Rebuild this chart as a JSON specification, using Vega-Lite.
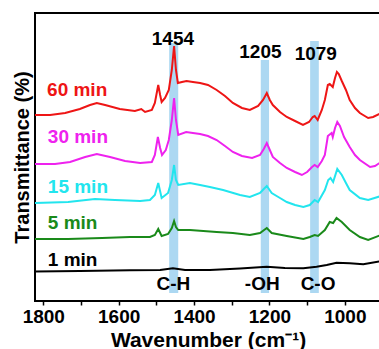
{
  "$schema": "https://vega.github.io/schema/vega-lite/v6.json",
  "width": 346,
  "height": 288,
  "autosize": {"type": "none"},
  "padding": {"left": 35, "top": 13, "right": 0, "bottom": 48},
  "config": {
    "font": "Liberation Sans",
    "view": {"stroke": "black", "strokeWidth": 2}
  },
  "datasets": {
    "spectra": [
      {"series": "60 min", "wn": 1822, "t": 186}, {"series": "60 min", "wn": 1782, "t": 186}, {"series": "60 min", "wn": 1742, "t": 188}, {"series": "60 min", "wn": 1703, "t": 192}, {"series": "60 min", "wn": 1676, "t": 196}, {"series": "60 min", "wn": 1658, "t": 198}, {"series": "60 min", "wn": 1636, "t": 196}, {"series": "60 min", "wn": 1597, "t": 192}, {"series": "60 min", "wn": 1557, "t": 190}, {"series": "60 min", "wn": 1540, "t": 192}, {"series": "60 min", "wn": 1530, "t": 189}, {"series": "60 min", "wn": 1512, "t": 191}, {"series": "60 min", "wn": 1504, "t": 198}, {"series": "60 min", "wn": 1495, "t": 216}, {"series": "60 min", "wn": 1490, "t": 206}, {"series": "60 min", "wn": 1486, "t": 199}, {"series": "60 min", "wn": 1477, "t": 203}, {"series": "60 min", "wn": 1467, "t": 211}, {"series": "60 min", "wn": 1459, "t": 231}, {"series": "60 min", "wn": 1453, "t": 255}, {"series": "60 min", "wn": 1448, "t": 231}, {"series": "60 min", "wn": 1443, "t": 218}, {"series": "60 min", "wn": 1432, "t": 219}, {"series": "60 min", "wn": 1420, "t": 220}, {"series": "60 min", "wn": 1403, "t": 219}, {"series": "60 min", "wn": 1384, "t": 218}, {"series": "60 min", "wn": 1363, "t": 216}, {"series": "60 min", "wn": 1340, "t": 211}, {"series": "60 min", "wn": 1318, "t": 205}, {"series": "60 min", "wn": 1297, "t": 198}, {"series": "60 min", "wn": 1273, "t": 193}, {"series": "60 min", "wn": 1252, "t": 191}, {"series": "60 min", "wn": 1230, "t": 195}, {"series": "60 min", "wn": 1217, "t": 201}, {"series": "60 min", "wn": 1207, "t": 208}, {"series": "60 min", "wn": 1199, "t": 201}, {"series": "60 min", "wn": 1191, "t": 196}, {"series": "60 min", "wn": 1172, "t": 189}, {"series": "60 min", "wn": 1154, "t": 184}, {"series": "60 min", "wn": 1132, "t": 180}, {"series": "60 min", "wn": 1111, "t": 176}, {"series": "60 min", "wn": 1095, "t": 179}, {"series": "60 min", "wn": 1085, "t": 184}, {"series": "60 min", "wn": 1080, "t": 185}, {"series": "60 min", "wn": 1072, "t": 181}, {"series": "60 min", "wn": 1061, "t": 191}, {"series": "60 min", "wn": 1053, "t": 201}, {"series": "60 min", "wn": 1045, "t": 216}, {"series": "60 min", "wn": 1040, "t": 217}, {"series": "60 min", "wn": 1032, "t": 214}, {"series": "60 min", "wn": 1026, "t": 223}, {"series": "60 min", "wn": 1021, "t": 229}, {"series": "60 min", "wn": 1016, "t": 227}, {"series": "60 min", "wn": 1008, "t": 220}, {"series": "60 min", "wn": 997, "t": 211}, {"series": "60 min", "wn": 987, "t": 201}, {"series": "60 min", "wn": 973, "t": 193}, {"series": "60 min", "wn": 960, "t": 188}, {"series": "60 min", "wn": 938, "t": 183}, {"series": "60 min", "wn": 925, "t": 184}, {"series": "60 min", "wn": 904, "t": 188},

      {"series": "30 min", "wn": 1822, "t": 137}, {"series": "30 min", "wn": 1769, "t": 137}, {"series": "30 min", "wn": 1729, "t": 139}, {"series": "30 min", "wn": 1689, "t": 144}, {"series": "30 min", "wn": 1658, "t": 147}, {"series": "30 min", "wn": 1623, "t": 144}, {"series": "30 min", "wn": 1583, "t": 140}, {"series": "30 min", "wn": 1543, "t": 138}, {"series": "30 min", "wn": 1512, "t": 139}, {"series": "30 min", "wn": 1504, "t": 146}, {"series": "30 min", "wn": 1496, "t": 164}, {"series": "30 min", "wn": 1490, "t": 153}, {"series": "30 min", "wn": 1485, "t": 146}, {"series": "30 min", "wn": 1475, "t": 151}, {"series": "30 min", "wn": 1467, "t": 161}, {"series": "30 min", "wn": 1459, "t": 181}, {"series": "30 min", "wn": 1453, "t": 203}, {"series": "30 min", "wn": 1448, "t": 181}, {"series": "30 min", "wn": 1442, "t": 166}, {"series": "30 min", "wn": 1421, "t": 169}, {"series": "30 min", "wn": 1403, "t": 168}, {"series": "30 min", "wn": 1384, "t": 167}, {"series": "30 min", "wn": 1363, "t": 165}, {"series": "30 min", "wn": 1340, "t": 161}, {"series": "30 min", "wn": 1318, "t": 155}, {"series": "30 min", "wn": 1297, "t": 149}, {"series": "30 min", "wn": 1273, "t": 145}, {"series": "30 min", "wn": 1246, "t": 143}, {"series": "30 min", "wn": 1225, "t": 146}, {"series": "30 min", "wn": 1215, "t": 152}, {"series": "30 min", "wn": 1207, "t": 158}, {"series": "30 min", "wn": 1199, "t": 151}, {"series": "30 min", "wn": 1191, "t": 144}, {"series": "30 min", "wn": 1172, "t": 138}, {"series": "30 min", "wn": 1154, "t": 133}, {"series": "30 min", "wn": 1132, "t": 129}, {"series": "30 min", "wn": 1114, "t": 126}, {"series": "30 min", "wn": 1100, "t": 129}, {"series": "30 min", "wn": 1087, "t": 134}, {"series": "30 min", "wn": 1080, "t": 136}, {"series": "30 min", "wn": 1072, "t": 134}, {"series": "30 min", "wn": 1061, "t": 140}, {"series": "30 min", "wn": 1053, "t": 146}, {"series": "30 min", "wn": 1045, "t": 165}, {"series": "30 min", "wn": 1035, "t": 168}, {"series": "30 min", "wn": 1032, "t": 164}, {"series": "30 min", "wn": 1026, "t": 173}, {"series": "30 min", "wn": 1020, "t": 179}, {"series": "30 min", "wn": 1013, "t": 175}, {"series": "30 min", "wn": 1002, "t": 164}, {"series": "30 min", "wn": 987, "t": 154}, {"series": "30 min", "wn": 973, "t": 146}, {"series": "30 min", "wn": 960, "t": 141}, {"series": "30 min", "wn": 933, "t": 134}, {"series": "30 min", "wn": 920, "t": 135}, {"series": "30 min", "wn": 904, "t": 139},

      {"series": "15 min", "wn": 1822, "t": 98}, {"series": "15 min", "wn": 1734, "t": 99}, {"series": "15 min", "wn": 1663, "t": 102}, {"series": "15 min", "wn": 1610, "t": 101}, {"series": "15 min", "wn": 1543, "t": 100}, {"series": "15 min", "wn": 1517, "t": 101}, {"series": "15 min", "wn": 1504, "t": 106}, {"series": "15 min", "wn": 1495, "t": 118}, {"series": "15 min", "wn": 1486, "t": 103}, {"series": "15 min", "wn": 1469, "t": 108}, {"series": "15 min", "wn": 1459, "t": 121}, {"series": "15 min", "wn": 1453, "t": 136}, {"series": "15 min", "wn": 1448, "t": 121}, {"series": "15 min", "wn": 1442, "t": 116}, {"series": "15 min", "wn": 1411, "t": 118}, {"series": "15 min", "wn": 1384, "t": 116}, {"series": "15 min", "wn": 1358, "t": 114}, {"series": "15 min", "wn": 1323, "t": 111}, {"series": "15 min", "wn": 1278, "t": 106}, {"series": "15 min", "wn": 1252, "t": 104}, {"series": "15 min", "wn": 1225, "t": 108}, {"series": "15 min", "wn": 1215, "t": 112}, {"series": "15 min", "wn": 1207, "t": 115}, {"series": "15 min", "wn": 1194, "t": 108}, {"series": "15 min", "wn": 1172, "t": 103}, {"series": "15 min", "wn": 1154, "t": 99}, {"series": "15 min", "wn": 1132, "t": 96}, {"series": "15 min", "wn": 1110, "t": 94}, {"series": "15 min", "wn": 1093, "t": 96}, {"series": "15 min", "wn": 1080, "t": 101}, {"series": "15 min", "wn": 1071, "t": 99}, {"series": "15 min", "wn": 1053, "t": 111}, {"series": "15 min", "wn": 1044, "t": 121}, {"series": "15 min", "wn": 1038, "t": 123}, {"series": "15 min", "wn": 1031, "t": 119}, {"series": "15 min", "wn": 1020, "t": 132}, {"series": "15 min", "wn": 1008, "t": 126}, {"series": "15 min", "wn": 997, "t": 118}, {"series": "15 min", "wn": 987, "t": 111}, {"series": "15 min", "wn": 960, "t": 103}, {"series": "15 min", "wn": 938, "t": 101}, {"series": "15 min", "wn": 904, "t": 105},

      {"series": "5 min", "wn": 1822, "t": 62}, {"series": "5 min", "wn": 1734, "t": 62}, {"series": "5 min", "wn": 1644, "t": 63}, {"series": "5 min", "wn": 1570, "t": 64}, {"series": "5 min", "wn": 1517, "t": 64}, {"series": "5 min", "wn": 1504, "t": 66}, {"series": "5 min", "wn": 1495, "t": 72}, {"series": "5 min", "wn": 1486, "t": 65}, {"series": "5 min", "wn": 1469, "t": 67}, {"series": "5 min", "wn": 1459, "t": 73}, {"series": "5 min", "wn": 1453, "t": 80}, {"series": "5 min", "wn": 1448, "t": 74}, {"series": "5 min", "wn": 1442, "t": 71}, {"series": "5 min", "wn": 1411, "t": 71}, {"series": "5 min", "wn": 1340, "t": 69}, {"series": "5 min", "wn": 1297, "t": 68}, {"series": "5 min", "wn": 1252, "t": 66}, {"series": "5 min", "wn": 1225, "t": 68}, {"series": "5 min", "wn": 1207, "t": 73}, {"series": "5 min", "wn": 1194, "t": 68}, {"series": "5 min", "wn": 1154, "t": 65}, {"series": "5 min", "wn": 1110, "t": 62}, {"series": "5 min", "wn": 1093, "t": 64}, {"series": "5 min", "wn": 1080, "t": 66}, {"series": "5 min", "wn": 1071, "t": 65}, {"series": "5 min", "wn": 1053, "t": 71}, {"series": "5 min", "wn": 1040, "t": 79}, {"series": "5 min", "wn": 1031, "t": 78}, {"series": "5 min", "wn": 1022, "t": 83}, {"series": "5 min", "wn": 1008, "t": 79}, {"series": "5 min", "wn": 987, "t": 71}, {"series": "5 min", "wn": 960, "t": 64}, {"series": "5 min", "wn": 938, "t": 61}, {"series": "5 min", "wn": 904, "t": 66},

      {"series": "1 min", "wn": 1822, "t": 29.5}, {"series": "1 min", "wn": 1703, "t": 30}, {"series": "1 min", "wn": 1570, "t": 30.7}, {"series": "1 min", "wn": 1490, "t": 31}, {"series": "1 min", "wn": 1456, "t": 32.7}, {"series": "1 min", "wn": 1424, "t": 31}, {"series": "1 min", "wn": 1358, "t": 31}, {"series": "1 min", "wn": 1278, "t": 32.5}, {"series": "1 min", "wn": 1207, "t": 34.3}, {"series": "1 min", "wn": 1159, "t": 33}, {"series": "1 min", "wn": 1110, "t": 32.7}, {"series": "1 min", "wn": 1075, "t": 34.3}, {"series": "1 min", "wn": 1048, "t": 36}, {"series": "1 min", "wn": 1022, "t": 38.3}, {"series": "1 min", "wn": 987, "t": 37.7}, {"series": "1 min", "wn": 951, "t": 36.7}, {"series": "1 min", "wn": 904, "t": 39.8}
    ],
    "bands": [
      {"lo": 1442, "hi": 1466, "top": 258, "bottom": 8},
      {"lo": 1201, "hi": 1223, "top": 241, "bottom": 8},
      {"lo": 1069, "hi": 1092, "top": 260, "bottom": 8}
    ],
    "serieslabels": [
      {"series": "60 min", "wn": 1790, "t": 211},
      {"series": "30 min", "wn": 1788, "t": 164},
      {"series": "15 min", "wn": 1788, "t": 114},
      {"series": "5 min", "wn": 1788, "t": 78},
      {"series": "1 min", "wn": 1788, "t": 41}
    ],
    "peaks": [
      {"label": "1454", "wn": 1456, "t": 262.5},
      {"label": "1205", "wn": 1224, "t": 249},
      {"label": "1079", "wn": 1077, "t": 247.5},
      {"label": "C-H", "wn": 1455, "t": 17.5},
      {"label": "-OH", "wn": 1219, "t": 17.5},
      {"label": "C-O", "wn": 1071, "t": 17.5}
    ]
  },
  "layer": [
    {
      "data": {"name": "bands"},
      "mark": {"type": "rect", "color": "#acd8f2"},
      "encoding": {
        "x": {"field": "lo", "type": "quantitative", "scale": {"domain": [904, 1822], "reverse": true, "nice": false, "zero": false},
          "axis": {"values": [1800, 1700, 1600, 1500, 1400, 1300, 1200, 1100, 1000], "format": "d", "labelExpr": "datum.value % 200 == 0 ? datum.label : ''", "labelOverlap": false, "domain": false, "grid": false, "tickColor": "black", "tickWidth": 1.5, "tickSize": 4, "labelPadding": 2, "labelFontSize": 19, "labelFontWeight": "bold", "labelColor": "black", "title": "Wavenumber (cm⁻¹)", "titleFontSize": 21, "titleFontWeight": "bold", "titleColor": "black", "titlePadding": 3}},
        "x2": {"field": "hi"},
        "y": {"field": "bottom", "type": "quantitative", "scale": {"domain": [0, 288], "nice": false, "zero": false},
          "axis": {"ticks": false, "labels": false, "domain": false, "grid": false, "title": "Transmittance (%)", "titleFontSize": 20, "titleFontWeight": "bold", "titleColor": "black", "titlePadding": 3}},
        "y2": {"field": "top"}
      }
    },
    {
      "data": {"name": "spectra"},
      "mark": {"type": "line", "strokeWidth": 2, "clip": true},
      "encoding": {
        "x": {"field": "wn", "type": "quantitative"},
        "y": {"field": "t", "type": "quantitative"},
        "color": {"field": "series", "type": "nominal", "legend": null,
          "scale": {"domain": ["1 min", "5 min", "15 min", "30 min", "60 min"], "range": ["#000000", "#1a8a1a", "#22e5ee", "#ee22ee", "#ee1515"]}}
      }
    },
    {
      "data": {"name": "serieslabels"},
      "mark": {"type": "text", "align": "left", "baseline": "middle", "fontSize": 19, "fontWeight": "bold"},
      "encoding": {
        "x": {"field": "wn", "type": "quantitative"},
        "y": {"field": "t", "type": "quantitative"},
        "text": {"field": "series"},
        "color": {"field": "series", "type": "nominal", "legend": null}
      }
    },
    {
      "data": {"name": "peaks"},
      "mark": {"type": "text", "align": "center", "baseline": "middle", "fontSize": 19, "fontWeight": "bold", "color": "black"},
      "encoding": {
        "x": {"field": "wn", "type": "quantitative"},
        "y": {"field": "t", "type": "quantitative"},
        "text": {"field": "label"}
      }
    }
  ]
}
